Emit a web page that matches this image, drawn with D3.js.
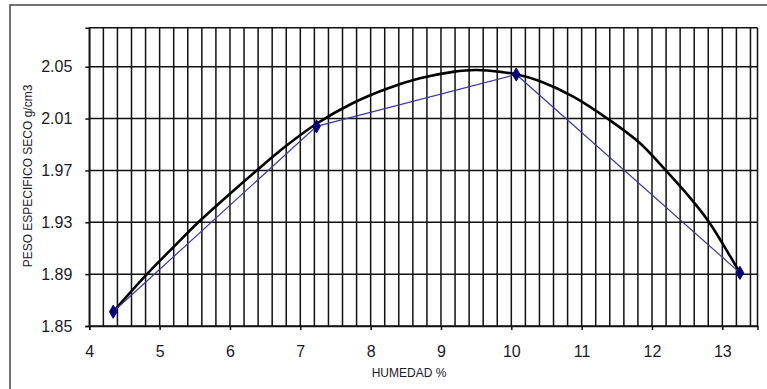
<!DOCTYPE html>
<html>
<head>
<meta charset="utf-8">
<script src="https://cdn.jsdelivr.net/npm/d3@7"></script>
<style>
  html, body { margin: 0; padding: 0; background: #fff; }
  svg { display: block; font-family: "Liberation Sans", Arial, sans-serif; }
</style>
</head>
<body>
<svg id="chart" width="767" height="389"></svg>
<script>
// ---- data ----
const humedad = [4.34, 7.23, 10.07, 13.25];
const pesoSeco = [1.861, 2.004, 2.044, 1.891];

const curveX = [4.34, 4.82, 5.2, 5.55, 6.0, 6.38, 6.8, 7.23, 7.75, 8.23, 8.7, 9.17, 9.5, 9.88, 10.07, 10.4, 10.88, 11.38, 11.83, 12.18, 12.54, 12.8, 13.01, 13.25];
const curveY = [1.861, 1.890, 1.911, 1.930, 1.952, 1.970, 1.989, 2.006, 2.022, 2.033, 2.041, 2.046, 2.0474, 2.0458, 2.0442, 2.0390, 2.0270, 2.0095, 1.991, 1.971, 1.949, 1.931, 1.913, 1.891];

const xTicks = [4, 5, 6, 7, 8, 9, 10, 11, 12, 13];
const yTicks = [1.85, 1.89, 1.93, 1.97, 2.01, 2.05];
const xDomain = [4, 13.5];
const yDomain = [1.85, 2.08];
const xTitle = "HUMEDAD %";
const yTitle = "PESO ESPECIFICO SECO g/cm3";

// ---- layout ----
const L = 89.3, R = 757.5, T = 27.8, B = 326;
const svg = d3.select("#chart");

const x = d3.scaleLinear().domain(xDomain).range([L, R]);
const y = d3.scaleLinear().domain(yDomain).range([B, T]);

// outer frame
svg.append("rect")
  .attr("x", 10).attr("y", 5).attr("width", 800).attr("height", 420)
  .attr("fill", "none").attr("stroke", "#444").attr("stroke-width", 1.5);

// plot background
svg.append("rect")
  .attr("x", L).attr("y", T).attr("width", R - L).attr("height", B - T)
  .attr("fill", "#fff");

const gridColor = "#111";
const gw = 1.5;

// vertical grid every 0.2
const minorX = d3.range(xDomain[0], xDomain[1] + 1e-9, 0.2).concat([xDomain[1]]);
svg.append("g").selectAll("line").data(minorX).join("line")
  .attr("x1", d => x(d)).attr("x2", d => x(d))
  .attr("y1", T).attr("y2", B)
  .attr("stroke", gridColor).attr("stroke-width", gw);

// horizontal grid
const hLines = yTicks.concat([yDomain[1]]);
svg.append("g").selectAll("line").data(hLines).join("line")
  .attr("x1", L).attr("x2", R)
  .attr("y1", d => y(d)).attr("y2", d => y(d))
  .attr("stroke", gridColor).attr("stroke-width", gw);

// axes
const xAxis = svg.append("g").attr("transform", `translate(0,${B})`)
  .call(d3.axisBottom(x).tickValues(xTicks).tickSize(4).tickPadding(16).tickFormat(d3.format("d")));
const yAxis = svg.append("g").attr("transform", `translate(${L},0)`)
  .call(d3.axisLeft(y).tickValues(yTicks).tickSize(4).tickPadding(13).tickFormat(d3.format(".2f")));

[xAxis, yAxis].forEach(g => {
  g.select(".domain").attr("stroke", gridColor).attr("stroke-width", gw);
  g.selectAll(".tick line").attr("stroke", gridColor).attr("stroke-width", gw);
  g.selectAll(".tick text").attr("fill", "#1a1a2a").attr("font-size", 16)
    .attr("font-family", "Liberation Sans, Arial, sans-serif");
});

// fitted curve
const curvePts = curveX.map((v, i) => [v, curveY[i]]);
svg.append("path")
  .datum(curvePts)
  .attr("fill", "none")
  .attr("stroke", "#000")
  .attr("stroke-width", 2.6)
  .attr("stroke-linejoin", "round")
  .attr("d", d3.line().x(d => x(d[0])).y(d => y(d[1])).curve(d3.curveCatmullRom.alpha(0.5)));

// data line
const pts = humedad.map((v, i) => [v, pesoSeco[i]]);
svg.append("path")
  .datum(pts)
  .attr("fill", "none")
  .attr("stroke", "#3a3aa8")
  .attr("stroke-width", 1.2)
  .attr("d", d3.line().x(d => x(d[0])).y(d => y(d[1])));

// diamond markers
svg.append("g").selectAll("path").data(pts).join("path")
  .attr("transform", d => `translate(${x(d[0])},${y(d[1])})`)
  .attr("d", d3.symbol(d3.symbolDiamond, 50)())
  .attr("fill", "#000080")
  .attr("stroke", "#000080");

// titles
svg.append("text")
  .attr("x", 409).attr("y", 377)
  .attr("text-anchor", "middle")
  .attr("font-size", 12)
  .attr("fill", "#1a1a2a")
  .text(xTitle);

svg.append("text")
  .attr("transform", "translate(32,176) rotate(-90)")
  .attr("text-anchor", "middle")
  .attr("font-size", 12)
  .attr("fill", "#1a1a2a")
  .text(yTitle);
</script>
</body>
</html>
